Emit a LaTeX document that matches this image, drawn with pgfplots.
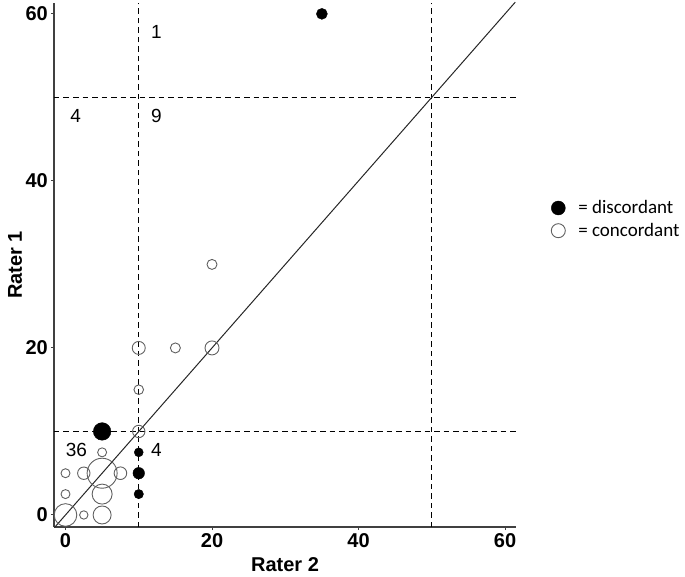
\documentclass[border=0pt]{standalone}
\usepackage{pgfplots}
\usepackage{pgfplotstable}
\pgfplotsset{compat=1.18}
\usepackage{fontspec}
\setmainfont{Liberation Sans}
\newfontfamily\calibri{Carlito}

\pgfplotstableread{
x y r
0 0 11.3
2.5 0 4.2
5 0 9
0 2.5 4.5
5 2.5 10
0 5 4.5
2.5 5 6.2
5 5 15
7.5 5 6.3
5 7.5 4.5
10 10 6.2
10 15 4.8
10 20 6.5
15 20 5
20 20 7
20 30 5
}\conc

\pgfplotstableread{
x y r
5 10 8.8
10 7.5 4.5
10 5 5.8
10 2.5 4.7
35 60 5.5
}\disc

\definecolor{axgray}{HTML}{404040}
\definecolor{circgray}{HTML}{606060}

\begin{document}
\begin{tikzpicture}
\useasboundingbox (-54pt,-49pt) rectangle (631pt,527pt);
\begin{axis}[
  scale only axis,
  width=462pt, height=524pt,
  xmin=-1.57, xmax=61.5,
  ymin=-1.44, ymax=61.3,
  axis x line*=bottom, axis y line*=left,
  axis line style={axgray, line width=1.3pt},
  xtick={0,20,40,60}, ytick={0,20,40,60},
  tick align=outside, major tick length=3pt,
  tick style={axgray, line width=1pt},
  /pgf/number format/assume math mode=true,
  ticklabel style={font=\bfseries\fontsize{20}{24}\selectfont},
  xticklabel style={inner sep=1pt, yshift=-2pt},
  yticklabel style={inner sep=1pt, xshift=-2pt},
  xlabel={Rater 2}, ylabel={Rater 1},
  label style={font=\bfseries\fontsize{20}{24}\selectfont},
  xlabel style={at={(axis description cs:0.5,0)}, anchor=center, yshift=-38pt},
  ylabel style={at={(axis description cs:-0.084,0.5)}, anchor=center, rotate=0},
  clip=false,
  legend style={at={(axis description cs:1.076,0.627)}, anchor=north west,
    draw=none, fill=none, font=\calibri\fontsize{19}{22}\selectfont,
    row sep=4pt, inner sep=0pt},
  legend cell align=left,
]
% reference lines
\addplot[black, line width=1.4pt, dash pattern=on 5.5pt off 4pt, forget plot] coordinates {(10,-1.44) (10,61.3)};
\addplot[black, line width=1.4pt, dash pattern=on 5.5pt off 4pt, forget plot] coordinates {(50,-1.44) (50,61.3)};
\addplot[black, line width=1.4pt, dash pattern=on 5.5pt off 4pt, forget plot] coordinates {(-1.57,10) (61.5,10)};
\addplot[black, line width=1.4pt, dash pattern=on 5.5pt off 4pt, forget plot] coordinates {(-1.57,50) (61.5,50)};
\addplot[black!85, line width=1pt, forget plot] coordinates {(-1.5,-1.5) (61.4,61.4)};
% concordant
\addplot[scatter, only marks, mark=o, forget plot,
  scatter src=explicit,
  scatter/use mapped color={draw=circgray, fill=none},
  mark options={line width=0.9pt},
  visualization depends on={\thisrow{r}\as\rad},
  scatter/@pre marker code/.append style={/tikz/mark size=\rad pt}]
  table[x=x, y=y, meta=r] {\conc};
% discordant
\addplot[scatter, only marks, mark=*, forget plot,
  scatter src=explicit,
  scatter/use mapped color={draw=black, fill=black},
  visualization depends on={\thisrow{r}\as\rad},
  scatter/@pre marker code/.append style={/tikz/mark size=\rad pt}]
  table[x=x, y=y, meta=r] {\disc};
% quadrant counts
\node[font=\fontsize{19}{22}\selectfont] at (axis cs:12.4,57.8) {1};
\node[font=\fontsize{19}{22}\selectfont] at (axis cs:1.4,47.8) {4};
\node[font=\fontsize{19}{22}\selectfont] at (axis cs:12.4,47.8) {9};
\node[font=\fontsize{19}{22}\selectfont] at (axis cs:1.5,7.8) {36};
\node[font=\fontsize{19}{22}\selectfont] at (axis cs:12.4,7.8) {4};
% legend
\addlegendimage{only marks, mark=*, mark size=7pt, black}
\addlegendentry{\hspace*{11pt}= discordant}
\addlegendimage{only marks, mark=o, mark size=7pt, circgray, mark options={line width=0.9pt}}
\addlegendentry{\hspace*{11pt}= concordant}
\end{axis}
\end{tikzpicture}
\end{document}
